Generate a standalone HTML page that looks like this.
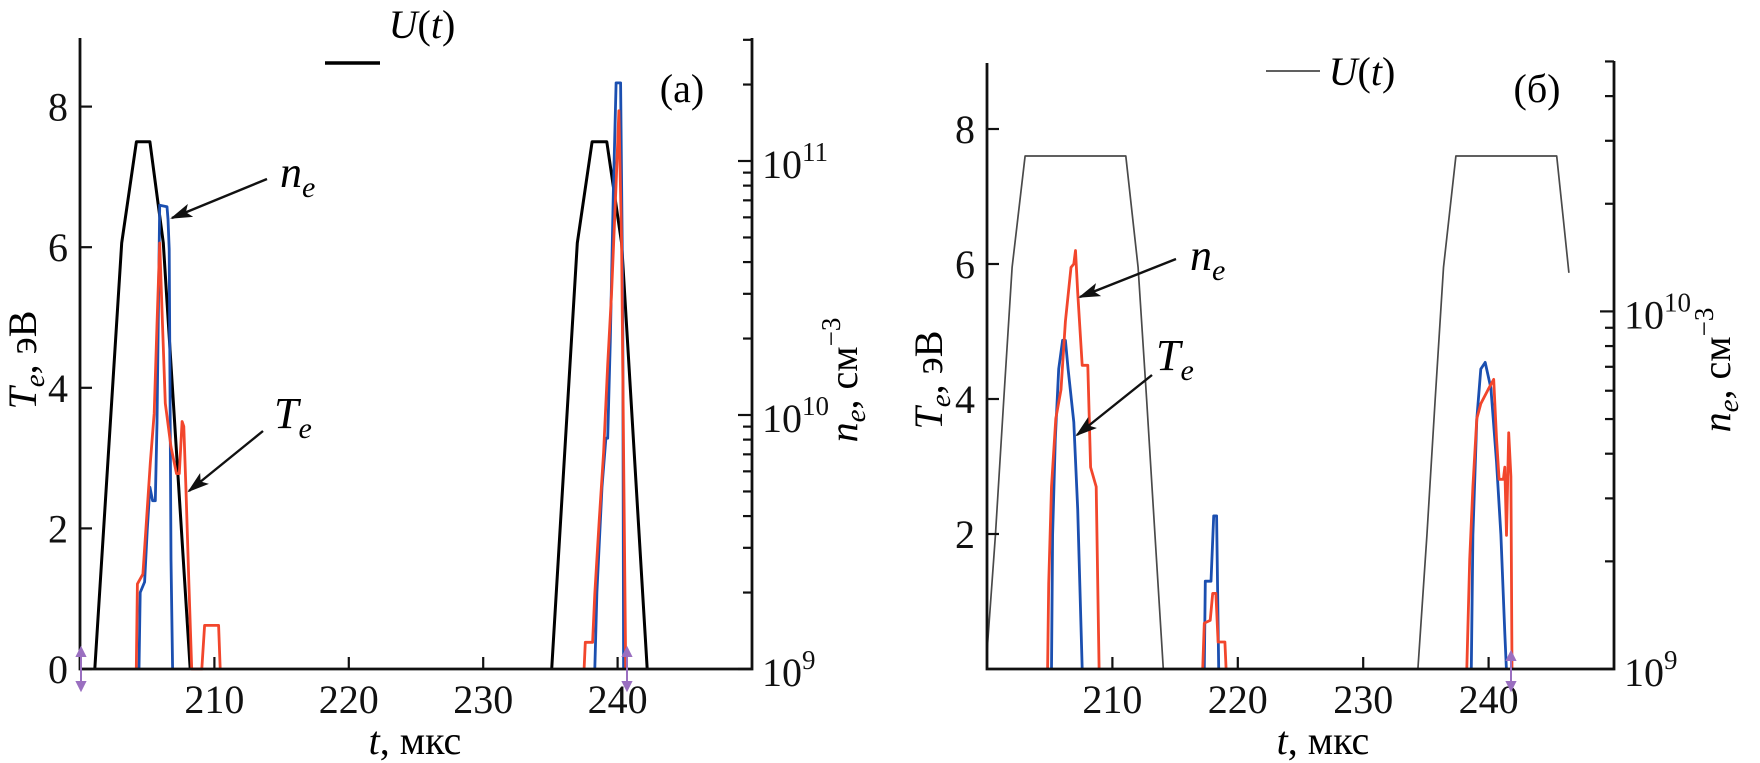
<!DOCTYPE html>
<html><head><meta charset="utf-8"><style>
html,body{margin:0;padding:0;background:#fff;}
svg{display:block;font-family:"Liberation Serif","DejaVu Serif",serif;}
</style></head>
<body>
<svg id="fig" width="1760" height="763" viewBox="0 0 1760 763" xmlns="http://www.w3.org/2000/svg"></svg>
<script>
// ---- Panel (a) data ----
const aXTicks = [210, 220, 230, 240];
const aYTicks = [0, 2, 4, 6, 8];
const aUt1 = [201.1, 203.1, 204.2, 205.2, 206.2, 208.2];
const aUv1 = [0, 6.06, 7.5, 7.5, 6.06, 0];
const aUt2 = [235.1, 237.0, 238.1, 239.2, 240.3, 242.2];
const aUv2 = [0, 6.06, 7.5, 7.5, 6.06, 0];
const aNeT1 = [204.39, 204.48, 204.81, 205.0, 205.2, 205.4, 205.6, 205.73, 205.85, 205.93, 206.47, 206.55, 206.64, 206.77, 206.89];
const aNeV1 = [1e9, 2.0e9, 2.2e9, 3.5e9, 5.2e9, 4.6e9, 4.6e9, 9.3e9, 3.0e10, 6.7e10, 6.6e10, 5.9e10, 4.5e10, 2.7e9, 1e9];
const aNeT2 = [238.3, 238.46, 238.84, 239.13, 239.26, 239.46, 239.68, 239.89, 240.22, 240.38, 240.45];
const aNeV2 = [1e9, 2.0e9, 5.2e9, 8.1e9, 8.1e9, 1.96e10, 7.4e10, 2.03e11, 2.03e11, 3.0e10, 1e9];
const aTeT1 = [204.19, 204.27, 204.68, 204.97, 205.23, 205.52, 205.73, 205.93, 206.14, 206.35, 206.77, 207.18, 207.39, 207.6, 207.72, 207.89, 208.1, 208.31, 209.06, 209.27, 210.31, 210.43];
const aTeV1 = [0, 1.21, 1.35, 2.18, 2.93, 3.64, 4.9, 6.06, 4.9, 3.78, 3.16, 2.78, 2.78, 3.52, 3.45, 2.54, 1.21, 0, 0, 0.62, 0.62, 0];
const aTeT2 = [237.51, 237.6, 238.14, 238.3, 238.63, 238.96, 239.26, 239.55, 239.89, 240.1, 240.3, 240.47, 240.6];
const aTeV2 = [0, 0.38, 0.38, 1.07, 2.11, 3.08, 4.33, 5.36, 6.9, 7.94, 6.06, 2.61, 0];

// ---- Panel (b) data ----
const bXTicks = [210, 220, 230, 240];
const bYTicks = [2, 4, 6, 8];
const bUt1 = [200.0, 200.67, 201.34, 202.0, 203.04, 211.07, 212.05, 212.73, 213.4, 214.06];
const bUv1 = [0.25, 1.98, 4.0, 5.95, 7.6, 7.6, 5.95, 4.0, 1.98, 0];
const bUt2 = [234.36, 235.08, 235.74, 236.4, 237.39, 245.43, 245.96, 246.4];
const bUv2 = [0, 1.98, 4.0, 5.95, 7.6, 7.6, 6.67, 5.87];
const bNeT1 = [205.14, 205.23, 205.45, 205.72, 206.03, 206.25, 206.47, 206.92, 207.23, 207.59];
const bNeV1 = [1e9, 2.37e9, 4.4e9, 6.9e9, 8.3e9, 8.3e9, 6.9e9, 4.9e9, 2.8e9, 1e9];
const bNeT2 = [217.33, 217.41, 217.86, 218.08, 218.31, 218.48];
const bNeV2 = [1e9, 1.76e9, 1.76e9, 2.68e9, 2.68e9, 1e9];
const bNeT3 = [238.62, 238.75, 239.06, 239.38, 239.73, 240.18, 240.63, 240.98, 241.29, 241.42];
const bNeV3 = [1e9, 2.37e9, 5.0e9, 6.9e9, 7.2e9, 6.1e9, 3.8e9, 2.37e9, 1.26e9, 1e9];
const bTeT1 = [204.83, 204.92, 205.14, 205.49, 205.9, 206.25, 206.7, 206.92, 207.06, 207.23, 207.59, 208.04, 208.26, 208.71, 208.94];
const bTeV1 = [0, 1.26, 2.7, 3.71, 4.14, 5.15, 5.95, 6.0, 6.2, 5.58, 4.5, 4.5, 2.99, 2.7, 0];
const bTeT2 = [217.2, 217.33, 217.8, 218.0, 218.25, 218.43, 218.97, 219.07];
const bTeV2 = [0, 0.68, 0.72, 1.12, 1.12, 0.4, 0.4, 0];
const bTeT3 = [238.26, 238.49, 238.75, 239.06, 239.38, 239.96, 240.41, 240.63, 240.84, 241.18, 241.29, 241.43, 241.6, 241.78, 241.87];
const bTeV3 = [0, 1.62, 2.7, 3.71, 3.93, 4.14, 4.29, 3.42, 2.81, 2.81, 2.99, 1.98, 3.5, 2.85, 0];

const NS = "http://www.w3.org/2000/svg";
const svg = document.getElementById('fig');
function mk(tag, attrs, parent) {
  const e = document.createElementNS(NS, tag);
  for (const k in attrs) e.setAttribute(k, attrs[k]);
  (parent || svg).appendChild(e);
  return e;
}
function panel(cfg) {
  const g = mk('g', {});
  
  
  const sx = t => cfg.x0 + (t - 200) / 50 * (cfg.x1 - cfg.x0);
  const sy = v => cfg.yb - v * cfg.ppu;
  const sl = n => cfg.yb - Math.log10(n / 1e9) * cfg.ppd;
  function line(ts, vs, f, color, w, nm) {
    let d = '';
    for (let i = 0; i < ts.length; i++) d += (i ? 'L' : 'M') + sx(ts[i]).toFixed(1) + ',' + f(vs[i]).toFixed(1);
    const p = mk('path', {d: d, fill: 'none', stroke: color, 'stroke-width': w, 'stroke-linejoin': 'round'}, g);
    
    
  }
  cfg.U.forEach((s, i) => line(s[0], s[1], sy, cfg.uColor, cfg.uW, 'u-voltage-line-' + (i + 1)));
  cfg.ne.forEach((s, i) => line(s[0], s[1], sl, '#1b4fb0', 2.8, 'ne-density-line-' + (i + 1)));
  cfg.te.forEach((s, i) => line(s[0], s[1], sy, '#f2462c', 2.8, 'te-temperature-line-' + (i + 1)));
  const ax = mk('path', {d: `M${cfg.x0},${cfg.topL} V${cfg.yb} H${cfg.x1} V${cfg.topR}`, fill: 'none', stroke: '#111', 'stroke-width': 2.8}, g);
  
  
  cfg.xt.forEach(t => {
    mk('line', {x1: sx(t), x2: sx(t), y1: cfg.yb, y2: cfg.yb - 12, stroke: '#111', 'stroke-width': 2.2}, g);
    const tx = mk('text', {x: sx(t), y: cfg.yb + 44, 'font-size': 40, 'text-anchor': 'middle', fill: '#111'}, g);
    tx.textContent = t;
    
    
  });
  cfg.yt.forEach(v => {
    mk('line', {x1: cfg.x0, x2: cfg.x0 + 12, y1: sy(v), y2: sy(v), stroke: '#111', 'stroke-width': 2.2}, g);
    const tx = mk('text', {x: cfg.x0 - 12, y: sy(v) + 14, 'font-size': 40, 'text-anchor': 'end', fill: '#111'}, g);
    tx.textContent = v;
    
    
  });
  for (let dec = 9; dec <= 11; dec++) {
    for (let m = 1; m <= 9; m++) {
      const n = m * Math.pow(10, dec);
      const y = sl(n);
      if (y < cfg.topR - 1) continue;
      mk('line', {x1: cfg.x1, x2: cfg.x1 - (m === 1 ? 14 : 9), y1: y, y2: y, stroke: '#111', 'stroke-width': 2.2}, g);
      if (m === 1) {
        const tx = mk('text', {x: cfg.x1 + 10, y: y + 17, 'font-size': 40, fill: '#111'}, g);
        
        
        tx.innerHTML = '10<tspan dy="-17" font-size="27">' + dec + '</tspan>';
      }
    }
  }
  return {sx, sy, sl, g};
}
const A = panel({name: 'panel-a', x0: 80, x1: 752, yb: 669, topL: 38, topR: 38, ppu: 70.3, ppd: 254,
  xt: aXTicks, yt: aYTicks, uColor: '#000', uW: 3,
  U: [[aUt1, aUv1], [aUt2, aUv2]], ne: [[aNeT1, aNeV1], [aNeT2, aNeV2]], te: [[aTeT1, aTeV1], [aTeT2, aTeV2]]});
const B = panel({name: 'panel-b', x0: 987, x1: 1614, yb: 669, topL: 63, topR: 61, ppu: 67.5, ppd: 357.6,
  xt: bXTicks, yt: bYTicks, uColor: '#4a4a4a', uW: 1.7,
  U: [[bUt1, bUv1], [bUt2, bUv2]], ne: [[bNeT1, bNeV1], [bNeT2, bNeV2], [bNeT3, bNeV3]], te: [[bTeT1, bTeV1], [bTeT2, bTeV2], [bTeT3, bTeV3]]});
</script>
<svg width="0" height="0" style="position:absolute"><defs>
<marker id="ah" markerWidth="22" markerHeight="14" refX="20" refY="7" orient="auto" markerUnits="userSpaceOnUse" viewBox="0 0 22 14"><path d="M0,0 L22,7 L0,14 L5,7 Z" fill="#111"/></marker>
</defs></svg>
<script>
const overlay = `
<g>
 <line x1="325" y1="63" x2="380" y2="63" stroke="#000" stroke-width="3.5"/>
 <text x="422" y="38" font-size="40" font-style="italic" text-anchor="middle">U<tspan font-style="normal">(</tspan>t<tspan font-style="normal">)</tspan></text>
 <text x="682" y="102" font-size="40" text-anchor="middle">(a)</text>
 <text x="280" y="187" font-size="44" font-style="italic">n<tspan font-size="30" dy="10">e</tspan></text>
 <line x1="267" y1="179" x2="172" y2="218" stroke="#111" stroke-width="2.4" marker-end="url(#ah)"/>
 <text x="274" y="428" font-size="44" font-style="italic">T<tspan font-size="30" dy="10">e</tspan></text>
 <line x1="263" y1="431" x2="189" y2="491" stroke="#111" stroke-width="2.4" marker-end="url(#ah)"/>
 <g stroke="#9a6fc0" stroke-width="2" fill="#9a6fc0">
  <line x1="81" y1="652" x2="81" y2="686"/><path d="M77,656 L81,648 L85,656Z M77,682 L81,690 L85,682Z"/>
  <line x1="627" y1="652" x2="627" y2="686"/><path d="M623,656 L627,648 L631,656Z M623,682 L627,690 L631,682Z"/>
 </g>
 <text transform="translate(36,360) rotate(-90)" font-size="40" text-anchor="middle"><tspan font-style="italic">T</tspan><tspan font-style="italic" font-size="29" dy="8">e</tspan><tspan dy="-8">, эВ</tspan></text>
 <text transform="translate(857,380) rotate(-90)" font-size="40" text-anchor="middle"><tspan font-style="italic">n</tspan><tspan font-style="italic" font-size="29" dy="8">e</tspan><tspan dy="-8">, см</tspan><tspan font-size="27" dy="-17">−3</tspan></text>
 <text x="415" y="754" font-size="40" text-anchor="middle"><tspan font-style="italic">t</tspan>, мкс</text>
</g>
<g>
 <line x1="1266" y1="71" x2="1320" y2="71" stroke="#4a4a4a" stroke-width="1.8"/>
 <text x="1362" y="85" font-size="40" font-style="italic" text-anchor="middle">U<tspan font-style="normal">(</tspan>t<tspan font-style="normal">)</tspan></text>
 <text x="1537" y="102" font-size="40" text-anchor="middle">(б)</text>
 <text x="1190" y="270" font-size="44" font-style="italic">n<tspan font-size="30" dy="10">e</tspan></text>
 <line x1="1176" y1="259" x2="1080" y2="297" stroke="#111" stroke-width="2.4" marker-end="url(#ah)"/>
 <text x="1156" y="370" font-size="44" font-style="italic">T<tspan font-size="30" dy="10">e</tspan></text>
 <line x1="1152" y1="375" x2="1077" y2="435" stroke="#111" stroke-width="2.4" marker-end="url(#ah)"/>
 <g stroke="#9a6fc0" stroke-width="2" fill="#9a6fc0">
  <line x1="1511" y1="656" x2="1511" y2="686"/><path d="M1507,660 L1511,652 L1515,660Z M1507,682 L1511,690 L1515,682Z"/>
 </g>
 <text transform="translate(942,380) rotate(-90)" font-size="40" text-anchor="middle"><tspan font-style="italic">T</tspan><tspan font-style="italic" font-size="29" dy="8">e</tspan><tspan dy="-8">, эВ</tspan></text>
 <text transform="translate(1730,370) rotate(-90)" font-size="40" text-anchor="middle"><tspan font-style="italic">n</tspan><tspan font-style="italic" font-size="29" dy="8">e</tspan><tspan dy="-8">, см</tspan><tspan font-size="27" dy="-17">−3</tspan></text>
 <text x="1323" y="754" font-size="40" text-anchor="middle"><tspan font-style="italic">t</tspan>, мкс</text>
</g>`;
svg.insertAdjacentHTML('beforeend', overlay);
</script>
</body></html>
